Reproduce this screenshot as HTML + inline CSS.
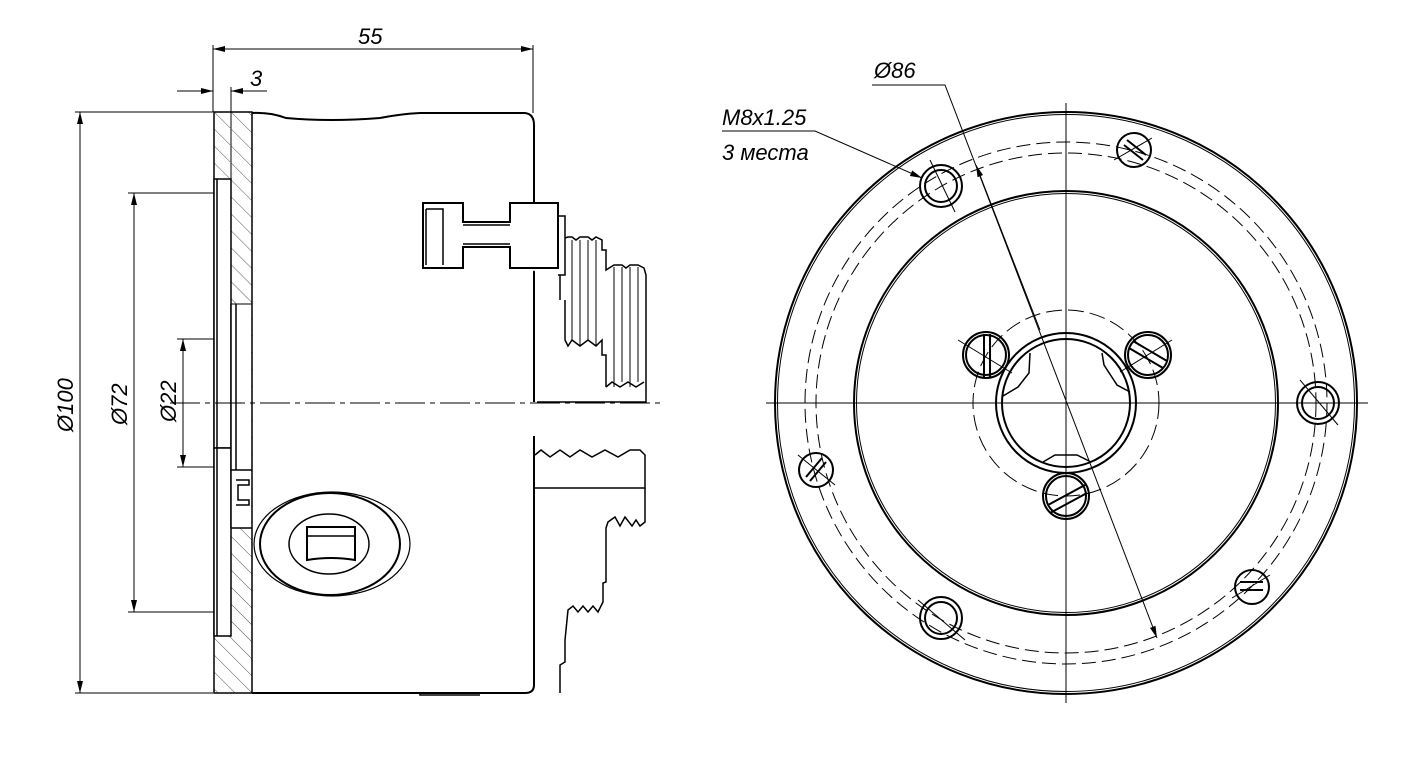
<!DOCTYPE html>
<html><head><meta charset="utf-8"><style>
html,body{margin:0;padding:0;background:#fff;}
svg{display:block;}
text{font-family:"Liberation Sans",sans-serif;font-style:italic;fill:#000;}
</style></head><body>
<svg width="1406" height="774" viewBox="0 0 1406 774" xmlns="http://www.w3.org/2000/svg">
<defs>
<pattern id="h" width="12" height="12" patternUnits="userSpaceOnUse" patternTransform="rotate(-45)">
<line x1="0" y1="0" x2="0" y2="12" stroke="#555" stroke-width="1"/>
</pattern>
<marker id="a" viewBox="0 0 12 6" refX="12" refY="3" markerWidth="12" markerHeight="6" orient="auto-start-reverse" markerUnits="userSpaceOnUse">
<path d="M0,0 L12,3 L0,6 z" fill="#000"/>
</marker>
</defs>
<g fill="none" stroke="#000" stroke-width="1">
<!-- dimensions left -->
<line x1="213" y1="45" x2="213" y2="112"/>
<line x1="533" y1="45" x2="533" y2="113"/>
<line x1="213" y1="49" x2="533" y2="49" marker-start="url(#a)" marker-end="url(#a)"/>
<line x1="231" y1="87" x2="231" y2="195"/>
<line x1="177" y1="91" x2="213" y2="91" marker-end="url(#a)"/>
<line x1="267" y1="91" x2="231" y2="91" marker-end="url(#a)"/>
<line x1="75" y1="112" x2="213" y2="112"/>
<line x1="75" y1="693" x2="213" y2="693"/>
<line x1="80" y1="112" x2="80" y2="693" marker-start="url(#a)" marker-end="url(#a)"/>
<line x1="128" y1="193" x2="216" y2="193"/>
<line x1="128" y1="612" x2="216" y2="612"/>
<line x1="134" y1="193" x2="134" y2="612" marker-start="url(#a)" marker-end="url(#a)"/>
<line x1="177" y1="339" x2="250" y2="339"/>
<line x1="177" y1="467" x2="250" y2="467"/>
<line x1="183" y1="339" x2="183" y2="467" marker-start="url(#a)" marker-end="url(#a)"/>
<!-- flange -->
<rect x="214" y="112" width="38" height="581" fill="url(#h)" stroke="#000" stroke-width="1.5"/>
<rect x="214" y="179" width="17" height="269" fill="#fff" stroke="#000" stroke-width="1.5"/>
<rect x="214" y="448" width="17" height="188" fill="#fff" stroke="#000" stroke-width="1.5"/>
<rect x="231" y="304" width="20" height="224" fill="#fff" stroke="none"/>
<path d="M231,304 L252,304" stroke-width="1"/>
<path d="M231,304 L231,528 M236,304 L236,470 M231,470 L252,470 M231,528 L252,528" stroke-width="1.5"/>
<path d="M236,480 L249,480 L249,485 L238,485 L238,500 L249,500 L249,505 L236,505" stroke-width="1.5"/>
<line x1="217" y1="179" x2="217" y2="636" stroke-width="1.5"/>
<!-- body -->
<path d="M252,113 Q270,112 286,118 Q330,122 380,118 Q400,114 420,113 L525,113 Q534,114 534,125 L534,220 M534,272 Q534,270 534,280 L534,402 M534,436 L534,685 Q534,693 525,693 L252,693" stroke-width="2"/>
<path d="M420,693 L420,695 L480,695" stroke-width="1.5"/>
<!-- upper jaw T -->
<path d="M423,203 L463,203 L463,222 L510,222 L510,203 L558,203 L558,268 L510,268 L510,247 L463,247 L463,268 L423,268 Z" fill="#fff" stroke-width="2"/>
<path d="M426,209 L443,209 L443,265 M426,209 L426,265 M463,225 L510,225 M463,244 L510,244" stroke-width="1.5"/>
<path d="M558,216 L565,216 L565,275 L558,275 M560,275 L560,300" stroke-width="1.5"/>
<!-- steps teeth upper -->
<path d="M565,238 L568,237 L572,237 L576,240 L580,237 L588,237 L592,240 L596,237 L602,240 L602,250 L606,250 L606,270 L614,265 L622,265 L626,268 L630,265 L638,265 L644,268 L646,275 L646,402 L537,402" stroke-width="1.5"/>
<path d="M565,300 L565,340 L568,346 L572,340 L580,346 L588,340 L596,346 L602,340 L602,355 L606,355 L606,387 M606,387 L612,382 L620,387 L628,382 L636,387 L644,382" stroke-width="1.5"/>
<path d="M572,240 L572,340 M580,240 L580,346 M588,240 L588,340 M596,240 L596,346 M614,267 L614,387 M622,267 L622,382 M630,267 L630,387 M638,267 L638,382" stroke-width="1"/>
<!-- lower jaw -->
<path d="M535,455 L541,450 L550,457 L560,450 L570,457 L580,450 L592,457 L605,450 L618,457 L630,450 L640,450 L645,455 L645,488 L535,488" stroke-width="1.5"/>
<path d="M645,488 L645,522 L640,526 L636,520 L632,526 L625,517 L620,526 L615,517 L608,522 L606,528 L606,582 L603,583 L603,602 L598,612 L593,606 L588,612 L583,606 L578,612 L573,606 L568,610 L565,640 L565,662 L560,665 L560,693" stroke-width="1.5"/>
<!-- key socket -->
<ellipse cx="332" cy="544" rx="78" ry="52" stroke-width="1.2"/>
<ellipse cx="330" cy="544" rx="70" ry="51" stroke-width="2"/>
<ellipse cx="329" cy="544" rx="40" ry="30" stroke-width="1.5"/>
<path d="M307,527 L355,527 L355,560 Q331,556 307,560 Z" stroke-width="2"/>
<path d="M307,536 L355,536" stroke-width="1.5"/>
<!-- centerline left -->
<line x1="170" y1="403" x2="660" y2="403" stroke-dasharray="30,5,5,5" stroke-width="1"/>

<!-- RIGHT VIEW -->
<line x1="766" y1="403" x2="1368" y2="403"/>
<line x1="1066" y1="103" x2="1066" y2="703"/>
<circle cx="1066" cy="403" r="291" stroke-width="2"/>
<circle cx="1066" cy="403" r="288.5" stroke-width="1"/>
<circle cx="1066" cy="403" r="212" stroke-width="2"/>
<circle cx="1066" cy="403" r="209.5" stroke-width="1"/>
<circle cx="1066" cy="403" r="250" stroke-dasharray="14,6"/>
<circle cx="1066" cy="403" r="261" stroke-dasharray="14,6"/>
<circle cx="1066" cy="403" r="93" stroke-dasharray="16,6"/>
<circle cx="1066" cy="403" r="70" stroke-width="2"/>
<circle cx="1066" cy="403" r="64" stroke-width="2"/>
<path d="M1030,353 L1029,373 L1018,387 L1003,396 M1102,353 L1104,365 L1117,385 L1130,392 M1043,462 L1055,455 L1077,455 L1091,462" stroke-width="1.5"/>
<!-- large holes -->
<g stroke-width="2"><circle cx="941" cy="186" r="21"/><circle cx="941" cy="186" r="16"/>
<circle cx="1318" cy="403" r="21"/><circle cx="1318" cy="403" r="16"/>
<circle cx="941" cy="618" r="21"/><circle cx="941" cy="618" r="16"/></g>
<line x1="930" y1="160" x2="955" y2="212"/><line x1="1300" y1="380" x2="1338" y2="425"/><line x1="918" y1="600" x2="965" y2="640"/>
<!-- small slotted screws -->
<g stroke-width="2">
<circle cx="1134" cy="150" r="17"/><circle cx="816" cy="470" r="17"/><circle cx="1252" cy="587" r="17"/>
<path d="M1124,145 L1143,160 M1127,140 L1146,155"/>
<path d="M806,477 L822,458 M810,481 L826,462"/>
<path d="M1240,582 L1263,582 M1240,590 L1263,590"/>
<circle cx="986" cy="355" r="23"/><circle cx="986" cy="355" r="20"/>
<path d="M984,334 L984,378 M990,334 L990,378"/>
<circle cx="1148" cy="355" r="23"/><circle cx="1148" cy="355" r="20"/>
<path d="M1129,348 L1163,368 M1133,341 L1167,361"/>
<circle cx="1066" cy="496" r="23"/><circle cx="1066" cy="496" r="20"/>
<path d="M1048,505 L1085,485 M1050,513 L1087,493"/>
</g>
<line x1="958" y1="340" x2="1012" y2="373"/><line x1="1172" y1="340" x2="1120" y2="372"/>
<line x1="1114" y1="160" x2="1152" y2="138"/><line x1="798" y1="455" x2="835" y2="485"/><line x1="1232" y1="598" x2="1270" y2="575"/>
<!-- Ø86 leader -->
<path d="M872,85 L945,85 L1157,638" marker-end="url(#a)"/>
<line x1="1040" y1="330" x2="976" y2="165" marker-end="url(#a)"/>
<path d="M722,131 L815,131 L922,178" marker-end="url(#a)"/>
</g>
<text x="358" y="44" font-size="22">55</text>
<text x="250" y="86" font-size="22">3</text>
<text x="874" y="78" font-size="22">Ø86</text>
<text x="722" y="125" font-size="22">M8x1.25</text>
<text x="722" y="160" font-size="22">3 места</text>
<text transform="translate(73,432) rotate(-90)" font-size="22">Ø100</text>
<text transform="translate(127,425) rotate(-90)" font-size="22">Ø72</text>
<text transform="translate(176,422) rotate(-90)" font-size="22">Ø22</text>
</svg>
</body></html>
